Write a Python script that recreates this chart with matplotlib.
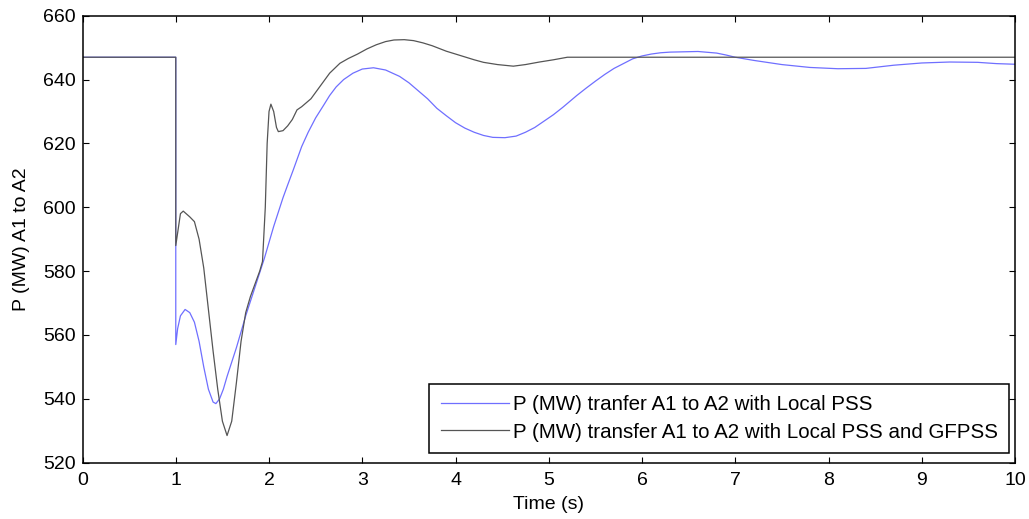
import matplotlib
matplotlib.use('Agg')
import matplotlib.pyplot as plt
import numpy as np

plt.rcParams['font.family'] = ['Liberation Sans', 'DejaVu Sans']

# P (MW) transfer A1 -> A2, local PSS only
t_local = [0, 1.0, 1.0, 1.02, 1.05, 1.1, 1.15, 1.2, 1.25, 1.3, 1.35, 1.4, 1.43, 1.47,
           1.51, 1.55, 1.6, 1.65, 1.7, 1.75, 1.8, 1.85, 1.9, 1.95, 2.0, 2.05, 2.1,
           2.15, 2.2, 2.26, 2.35, 2.42, 2.5, 2.58, 2.65, 2.72, 2.8, 2.9, 3.0, 3.12,
           3.25, 3.4, 3.5, 3.6, 3.7, 3.8, 3.9, 4.0, 4.1, 4.2, 4.3, 4.4, 4.53, 4.65,
           4.75, 4.85, 4.95, 5.05, 5.15, 5.3, 5.4, 5.5, 5.6, 5.7, 5.8, 5.9, 6.0,
           6.1, 6.2, 6.3, 6.6, 6.8, 6.9, 7.0, 7.2, 7.5, 7.8, 8.1, 8.4, 8.7, 9.0,
           9.3, 9.6, 9.8, 10.0]
p_local = [647, 647, 557, 562, 566, 568, 567, 564, 558, 550, 543, 539, 538.5, 540,
           543, 547, 551.5, 556, 561, 566, 570.5, 575, 579.5, 584, 589, 594, 598.5,
           603, 607, 611.7, 619, 623.5, 628, 631.7, 635, 637.7, 640, 642, 643.3, 643.7,
           643, 641, 639, 636.5, 634, 631, 628.7, 626.5, 624.8, 623.5, 622.5, 621.9,
           621.8, 622.3, 623.5, 625, 627, 629, 631.3, 635, 637.3, 639.5, 641.6, 643.5,
           645, 646.5, 647.4, 648, 648.4, 648.6, 648.8, 648.3, 647.7, 647, 646,
           644.7, 643.8, 643.4, 643.5, 644.5, 645.2, 645.5, 645.4, 645, 644.8]

# local PSS + GFPSS
t_gf = [0, 1.0, 1.0, 1.02, 1.05, 1.08, 1.15, 1.2, 1.25, 1.3, 1.35, 1.4, 1.45, 1.5,
        1.55, 1.6, 1.65, 1.7, 1.75, 1.8, 1.85, 1.9, 1.93, 1.96, 1.98, 2.0, 2.02,
        2.05, 2.08, 2.1, 2.15, 2.2, 2.25, 2.3, 2.35, 2.45, 2.55, 2.65, 2.76, 2.85,
        2.95, 3.05, 3.15, 3.25, 3.34, 3.45, 3.55, 3.65, 3.75, 3.9, 4.0, 4.1, 4.2,
        4.3, 4.45, 4.62, 4.75, 4.9, 5.05, 5.2, 10.0]
p_gf = [647, 647, 588, 592, 598, 598.8, 597, 595.5, 590, 581, 568, 555, 543, 533,
        528.5, 533, 545, 558, 567, 572, 576, 580, 583, 600, 620, 630, 632.3,
        630, 625, 623.7, 624, 625.5, 627.5, 630.5, 631.5, 634, 638, 642, 645.1, 646.6,
        648, 649.6, 650.9, 651.9, 652.4, 652.5, 652.2, 651.5, 650.6, 648.9, 648, 647.1,
        646.2, 645.4, 644.7, 644.2, 644.7, 645.5, 646.2, 647, 647]

fig = plt.figure(figsize=(10.29, 5.19), dpi=100)
ax = fig.add_axes([0.0802, 0.1085, 0.9062, 0.8612])

ax.plot(t_local, p_local, color='#6f6fff', linewidth=0.9,
        label='P (MW) tranfer A1 to A2 with Local PSS')
ax.plot(t_gf, p_gf, color='#555555', linewidth=0.9,
        label='P (MW) transfer A1 to A2 with Local PSS and GFPSS')

ax.set_xlim(0, 10)
ax.set_ylim(520, 660)
ax.set_xticks(np.arange(0, 11, 1))
ax.set_yticks(np.arange(520, 661, 20))
ax.tick_params(direction='in', top=True, right=True, length=4, width=0.8,
               labelsize=14, pad=5)
ax.tick_params(axis='x', pad=7)
for s in ax.spines.values():
    s.set_linewidth(1.1)

ax.set_xlabel('Time (s)', fontsize=14, labelpad=5)
ax.set_ylabel('P (MW) A1 to A2', fontsize=14, labelpad=9)

leg = ax.legend(loc='lower right', bbox_to_anchor=(0.9936, 0.022), borderaxespad=0,
                fontsize=14.8, fancybox=False, framealpha=1, edgecolor='black',
                handlelength=3.3, handletextpad=0.2, borderpad=0.55, labelspacing=0.4)
leg.get_frame().set_linewidth(1.1)

fig.savefig('out.png', dpi=100)
